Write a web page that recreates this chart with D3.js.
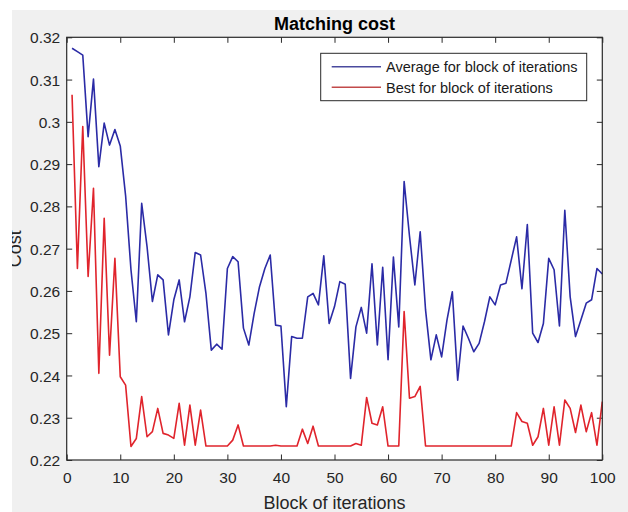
<!DOCTYPE html>
<html>
<head>
<meta charset="utf-8">
<script src="https://cdn.jsdelivr.net/npm/d3@7"></script>
<style>
  html, body { margin: 0; padding: 0; background: #ffffff; }
  svg { display: block; font-family: "Liberation Sans", Arial, sans-serif; }
</style>
</head>
<body>
<svg id="chart" width="628" height="512"></svg>
<script>
// Block index on the x axis
const blocks = d3.range(1, 101);

// Average matching cost per block of iterations
const averageCost = [
  0.3174, 0.3166, 0.3158, 0.2965, 0.3101, 0.2894, 0.2997, 0.2945, 0.2982, 0.2943,
  0.2825, 0.2650, 0.2527, 0.2807, 0.2705, 0.2575, 0.2638, 0.2626, 0.2496, 0.2579,
  0.2626, 0.2527, 0.2586, 0.2691, 0.2685, 0.2594, 0.2460, 0.2474, 0.2462, 0.2653,
  0.2681, 0.2669, 0.2512, 0.2472, 0.2547, 0.2610, 0.2653, 0.2685, 0.2519, 0.2517,
  0.2326, 0.2492, 0.2488, 0.2488, 0.2586, 0.2594, 0.2567, 0.2683, 0.2523, 0.2563,
  0.2622, 0.2616, 0.2393, 0.2515, 0.2561, 0.2500, 0.2664, 0.2472, 0.2656, 0.2437,
  0.2680, 0.2515, 0.2859, 0.2730, 0.2614, 0.2740, 0.2555, 0.2437, 0.2496, 0.2444,
  0.2531, 0.2598, 0.2389, 0.2517, 0.2488, 0.2456, 0.2476, 0.2527, 0.2586, 0.2567,
  0.2614, 0.2618, 0.2673, 0.2728, 0.2605, 0.2757, 0.2500, 0.2478, 0.2523, 0.2677,
  0.2650, 0.2517, 0.2791, 0.2586, 0.2492, 0.2531, 0.2571, 0.2579, 0.2653, 0.2640
];

// Best matching cost per block of iterations
const bestCost = [
  0.3064, 0.2653, 0.2989, 0.2634, 0.2843, 0.2405, 0.2772, 0.2448, 0.2677, 0.2397,
  0.2377, 0.2232, 0.2251, 0.2350, 0.2255, 0.2267, 0.2322, 0.2263, 0.2259, 0.2251,
  0.2334, 0.2235, 0.2330, 0.2235, 0.2318, 0.2233, 0.2233, 0.2233, 0.2233, 0.2233,
  0.2247, 0.2283, 0.2233, 0.2233, 0.2233, 0.2233, 0.2233, 0.2233, 0.2235, 0.2233,
  0.2233, 0.2233, 0.2233, 0.2273, 0.2239, 0.2280, 0.2233, 0.2233, 0.2233, 0.2233,
  0.2233, 0.2233, 0.2233, 0.2239, 0.2235, 0.2348, 0.2287, 0.2283, 0.2326, 0.2233,
  0.2233, 0.2233, 0.2551, 0.2346, 0.2350, 0.2374, 0.2233, 0.2233, 0.2233, 0.2233,
  0.2233, 0.2233, 0.2233, 0.2233, 0.2233, 0.2233, 0.2233, 0.2233, 0.2233, 0.2233,
  0.2233, 0.2233, 0.2233, 0.2312, 0.2291, 0.2287, 0.2235, 0.2255, 0.2322, 0.2235,
  0.2326, 0.2235, 0.2342, 0.2322, 0.2265, 0.2330, 0.2267, 0.2312, 0.2235, 0.2338
];

// Axis tick values and labels
const xTicks = [0, 10, 20, 30, 40, 50, 60, 70, 80, 90, 100];
const yTicks = [0.22, 0.23, 0.24, 0.25, 0.26, 0.27, 0.28, 0.29, 0.30, 0.31, 0.32];
const yTickLabels = ["0.22", "0.23", "0.24", "0.25", "0.26", "0.27", "0.28", "0.29", "0.3", "0.31", "0.32"];

const seriesNames = ["Average for block of iterations", "Best for block of iterations"];
const seriesColors = ["#2b2ba6", "#e0242c"];
const legendColors = ["#4a4a9e", "#c24a4a"];

const svg = d3.select("#chart");
const W = 628, H = 512;
const plot = { left: 66.7, right: 602.3, top: 37.3, bottom: 460 };

// Figure background
svg.append("rect").attr("x", 0).attr("y", 0).attr("width", W).attr("height", H).attr("fill", "#f0f0f0");

const x = d3.scaleLinear().domain([0, 100]).range([plot.left, plot.right]);
const y = d3.scaleLinear().domain([0.22, 0.32]).range([plot.bottom, plot.top]);

// Axes area
svg.append("rect")
  .attr("x", plot.left).attr("y", plot.top)
  .attr("width", plot.right - plot.left).attr("height", plot.bottom - plot.top)
  .attr("fill", "#ffffff");

const axisColor = "#2a2a2a";
const tickLen = 5.5;

function styleAxis(g, showText) {
  g.select(".domain").remove();
  g.selectAll(".tick line").attr("stroke", axisColor).attr("stroke-width", 1);
  g.selectAll(".tick text")
    .attr("fill", "#262626")
    .style("font-size", "15.5px")
    .style("display", showText ? null : "none");
}

// Bottom axis with labels, ticks pointing inward
svg.append("g")
  .attr("transform", `translate(0,${plot.bottom})`)
  .call(d3.axisBottom(x).tickValues(xTicks).tickSizeInner(-tickLen).tickSizeOuter(0).tickPadding(tickLen + 11).tickFormat(d3.format("d")))
  .call(g => styleAxis(g, true))
  .call(g => g.selectAll(".tick text").attr("dy", "0.71em").attr("y", 12));

// Top axis ticks
svg.append("g")
  .attr("transform", `translate(0,${plot.top})`)
  .call(d3.axisTop(x).tickValues(xTicks).tickSizeInner(-tickLen).tickSizeOuter(0))
  .call(g => styleAxis(g, false));

// Left axis with labels
svg.append("g")
  .attr("transform", `translate(${plot.left},0)`)
  .call(d3.axisLeft(y).tickValues(yTicks).tickSizeInner(-tickLen).tickSizeOuter(0)
    .tickFormat((d, i) => yTickLabels[i]))
  .call(g => styleAxis(g, true))
  .call(g => g.selectAll(".tick text").attr("x", -6.5).attr("dy", "0.36em"));

// Right axis ticks
svg.append("g")
  .attr("transform", `translate(${plot.right},0)`)
  .call(d3.axisRight(y).tickValues(yTicks).tickSizeInner(-tickLen).tickSizeOuter(0))
  .call(g => styleAxis(g, false));

// Data lines
const line = d3.line().x((d, i) => x(blocks[i])).y(d => y(d));
[averageCost, bestCost].forEach((vals, k) => {
  svg.append("path")
    .datum(vals)
    .attr("d", line)
    .attr("fill", "none")
    .attr("stroke", seriesColors[k])
    .attr("stroke-width", 1.6)
    .attr("stroke-linejoin", "round");
});

// Axes box
svg.append("rect")
  .attr("x", plot.left).attr("y", plot.top)
  .attr("width", plot.right - plot.left).attr("height", plot.bottom - plot.top)
  .attr("fill", "none").attr("stroke", axisColor).attr("stroke-width", 1.2);

// Title
svg.append("text")
  .attr("x", (plot.left + plot.right) / 2).attr("y", 29.5)
  .attr("text-anchor", "middle")
  .style("font-size", "18px").style("font-weight", "bold")
  .attr("fill", "#000")
  .text("Matching cost");

// X axis label
svg.append("text")
  .attr("x", (plot.left + plot.right) / 2).attr("y", 508.5)
  .attr("text-anchor", "middle")
  .style("font-size", "18px")
  .attr("fill", "#262626")
  .text("Block of iterations");

// Y axis label
svg.append("text")
  .attr("transform", `translate(21,${(plot.top + plot.bottom) / 2}) rotate(-90)`)
  .attr("text-anchor", "middle")
  .style("font-size", "18px")
  .attr("fill", "#262626")
  .text("Cost");

// Legend
const legend = svg.append("g");
legend.append("rect")
  .attr("x", 320.7).attr("y", 53.3).attr("width", 266).attr("height", 47.4)
  .attr("fill", "#ffffff").attr("stroke", axisColor).attr("stroke-width", 1);
seriesNames.forEach((name, k) => {
  const ly = 66.7 + k * 20.6;
  legend.append("line")
    .attr("x1", 331.7).attr("x2", 381).attr("y1", ly).attr("y2", ly)
    .attr("stroke", legendColors[k]).attr("stroke-width", 1.4);
  legend.append("text")
    .attr("x", 386).attr("y", ly).attr("dy", "0.36em")
    .style("font-size", "14.5px").attr("fill", "#1a1a1a")
    .text(name);
});

// White page margin around the figure
svg.append("rect").attr("x", 0).attr("y", 0).attr("width", 12).attr("height", H).attr("fill", "#ffffff");
svg.append("rect").attr("x", 0).attr("y", 0).attr("width", W).attr("height", 10).attr("fill", "#ffffff");
</script>
</body>
</html>
